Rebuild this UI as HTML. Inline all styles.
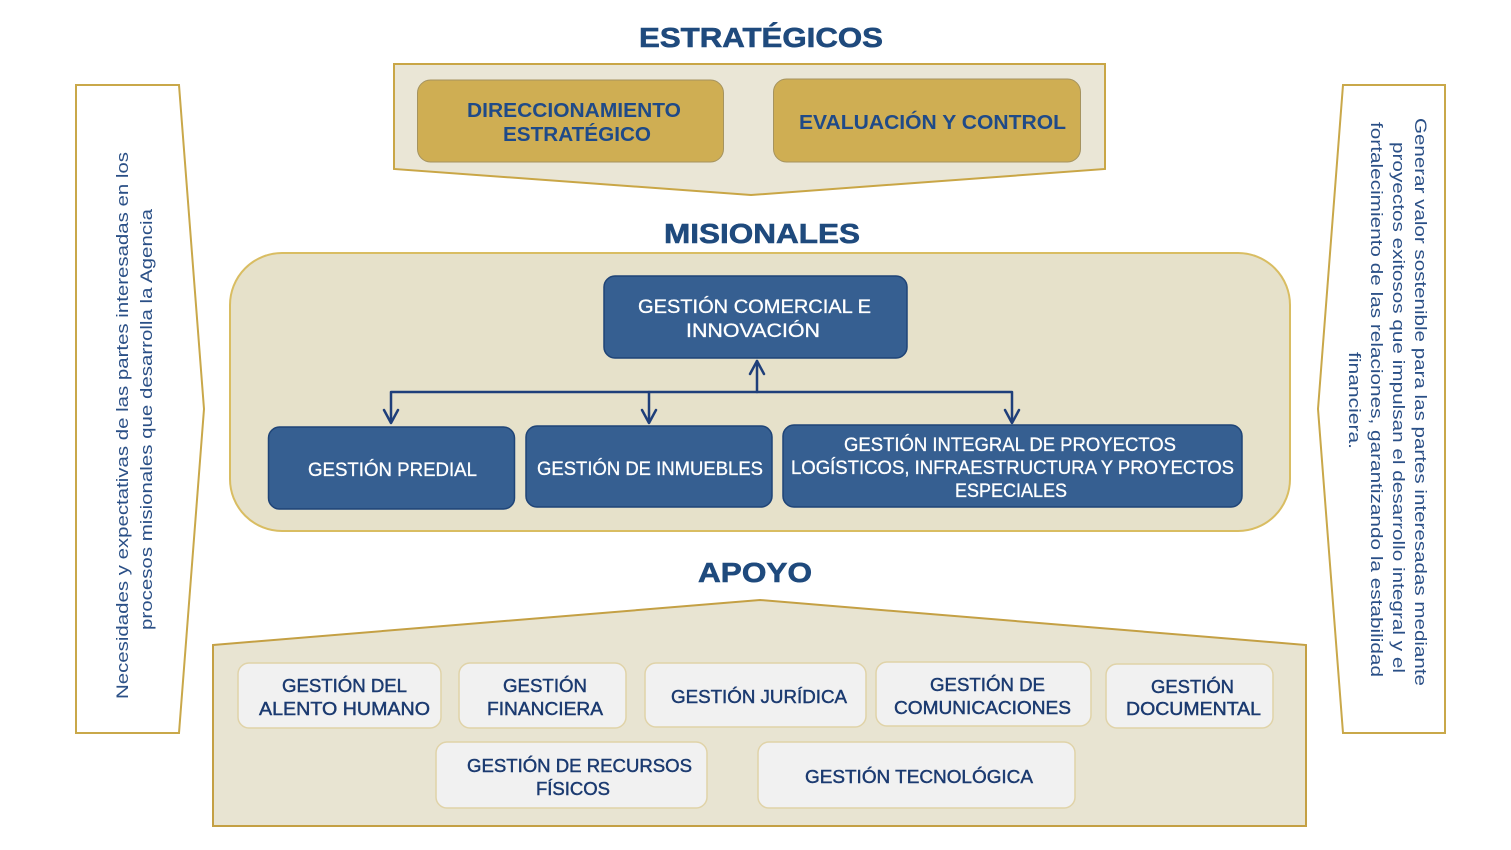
<!DOCTYPE html>
<html>
<head>
<meta charset="utf-8">
<style>
html,body{margin:0;padding:0;background:#ffffff;}
svg{display:block;}
text{font-family:"Liberation Sans", sans-serif;}
</style>
</head>
<body>
<svg width="1511" height="850" viewBox="0 0 1511 850" xmlns="http://www.w3.org/2000/svg">
  <rect x="0" y="0" width="1511" height="850" fill="#ffffff"/>

  <!-- Left pentagon arrow -->
  <polygon points="76,85 179,85 204,409 179,733 76,733" fill="#ffffff" stroke="#c9a84a" stroke-width="2"/>
  <text transform="translate(128,699) rotate(-90)" font-size="17" fill="#2a4f86" textLength="547" lengthAdjust="spacingAndGlyphs">Necesidades y expectativas de las partes interesadas en los</text>
  <text transform="translate(152,630) rotate(-90)" font-size="17" fill="#2a4f86" textLength="421" lengthAdjust="spacingAndGlyphs">procesos misionales que desarrolla la Agencia</text>

  <!-- Right pentagon -->
  <polygon points="1343,85 1445,85 1445,733 1343,733 1318,409" fill="#ffffff" stroke="#c9a84a" stroke-width="2"/>
  <text transform="translate(1415,118) rotate(90)" font-size="17" fill="#2a4f86" textLength="568" lengthAdjust="spacingAndGlyphs">Generar valor sostenible para las partes interesadas mediante</text>
  <text transform="translate(1393,142) rotate(90)" font-size="17" fill="#2a4f86" textLength="531" lengthAdjust="spacingAndGlyphs">proyectos exitosos que impulsan el desarrollo integral y el</text>
  <text transform="translate(1371,122) rotate(90)" font-size="17" fill="#2a4f86" textLength="555" lengthAdjust="spacingAndGlyphs">fortalecimiento de las relaciones, garantizando la estabilidad</text>
  <text transform="translate(1349,352) rotate(90)" font-size="17" fill="#2a4f86" textLength="97" lengthAdjust="spacingAndGlyphs">financiera.</text>

  <!-- ESTRATÉGICOS -->
  <text x="639" y="47" font-size="28" font-weight="bold" fill="#1f4a7d" stroke="#1f4a7d" stroke-width="0.6" textLength="244" lengthAdjust="spacingAndGlyphs">ESTRATÉGICOS</text>
  <polygon points="394,64 1105,64 1105,169 751,195 394,169" fill="#eae6d6" stroke="#c9a646" stroke-width="2"/>
  <rect x="417.5" y="80" width="306" height="82" rx="13" fill="#cfae53" stroke="#a5935f" stroke-width="1"/>
  <rect x="773.5" y="79" width="307" height="83" rx="13" fill="#cfae53" stroke="#a5935f" stroke-width="1"/>
  <text x="467" y="117" font-size="20" font-weight="bold" fill="#1f4a88" textLength="214" lengthAdjust="spacingAndGlyphs">DIRECCIONAMIENTO</text>
  <text x="503" y="141" font-size="20" font-weight="bold" fill="#1f4a88" textLength="148" lengthAdjust="spacingAndGlyphs">ESTRATÉGICO</text>
  <text x="799" y="129" font-size="20" font-weight="bold" fill="#1f4a88" textLength="267" lengthAdjust="spacingAndGlyphs">EVALUACIÓN Y CONTROL</text>

  <!-- MISIONALES -->
  <text x="664" y="243" font-size="28" font-weight="bold" fill="#1f4a7d" stroke="#1f4a7d" stroke-width="0.6" textLength="196" lengthAdjust="spacingAndGlyphs">MISIONALES</text>
  <rect x="230" y="253" width="1060" height="278" rx="52" fill="#e6e1ca" stroke="#d9bd62" stroke-width="2"/>

  <rect x="604" y="276" width="303" height="82" rx="11" fill="#365f91" stroke="#1f4477" stroke-width="1.5"/>
  <g fill="#ffffff" stroke="#ffffff" stroke-width="0.3" font-size="19">
    <text x="638" y="313" textLength="233" lengthAdjust="spacingAndGlyphs">GESTIÓN COMERCIAL E</text>
    <text x="686" y="337" textLength="134" lengthAdjust="spacingAndGlyphs">INNOVACIÓN</text>
  </g>

  <!-- connectors -->
  <g stroke="#1f3f7a" stroke-width="2.5" fill="none" stroke-linecap="round" stroke-linejoin="round">
    <polyline points="391,422 391,392 1012,392 1012,422"/>
    <line x1="649" y1="392" x2="649" y2="422"/>
    <line x1="757" y1="392" x2="757" y2="361"/>
    <polyline points="750,374 757,361 764,374"/>
    <polyline points="384,410 391,423 398,410"/>
    <polyline points="642,410 649,423 656,410"/>
    <polyline points="1005,410 1012,423 1019,410"/>
  </g>

  <rect x="268.5" y="427" width="246" height="82" rx="11" fill="#365f91" stroke="#1f4477" stroke-width="1.5"/>
  <rect x="526" y="426" width="246" height="81" rx="11" fill="#365f91" stroke="#1f4477" stroke-width="1.5"/>
  <rect x="783" y="425" width="459" height="82" rx="11" fill="#365f91" stroke="#1f4477" stroke-width="1.5"/>
  <g fill="#ffffff" stroke="#ffffff" stroke-width="0.3" font-size="19">
    <text x="308" y="476" textLength="169" lengthAdjust="spacingAndGlyphs">GESTIÓN PREDIAL</text>
    <text x="537" y="475" textLength="226" lengthAdjust="spacingAndGlyphs">GESTIÓN DE INMUEBLES</text>
    <text x="844" y="451" textLength="332" lengthAdjust="spacingAndGlyphs">GESTIÓN INTEGRAL DE PROYECTOS</text>
    <text x="791" y="474" textLength="443" lengthAdjust="spacingAndGlyphs">LOGÍSTICOS, INFRAESTRUCTURA Y PROYECTOS</text>
    <text x="955" y="497" textLength="112" lengthAdjust="spacingAndGlyphs">ESPECIALES</text>
  </g>

  <!-- APOYO -->
  <text x="698" y="582" font-size="28" font-weight="bold" fill="#1f4a7d" stroke="#1f4a7d" stroke-width="0.6" textLength="114" lengthAdjust="spacingAndGlyphs">APOYO</text>
  <polygon points="213,645 760,600 1306,645 1306,826 213,826" fill="#e8e4d2" stroke="#c4a044" stroke-width="2"/>

  <g fill="#f1f1f1" stroke="#e0d3a8" stroke-width="1.5">
    <rect x="238" y="663" width="203" height="65" rx="11"/>
    <rect x="459" y="663" width="167" height="65" rx="11"/>
    <rect x="645" y="663" width="221" height="64" rx="11"/>
    <rect x="876" y="662" width="215" height="64" rx="11"/>
    <rect x="1106" y="664" width="167" height="64" rx="11"/>
    <rect x="436" y="742" width="271" height="66" rx="11"/>
    <rect x="758" y="742" width="317" height="66" rx="11"/>
  </g>
  <g font-size="18.5" fill="#1b3a70" stroke="#1b3a70" stroke-width="0.45">
    <text x="282" y="692" textLength="125" lengthAdjust="spacingAndGlyphs">GESTIÓN DEL</text>
    <text x="259" y="715" textLength="171" lengthAdjust="spacingAndGlyphs">ALENTO HUMANO</text>
    <text x="503" y="692" textLength="84" lengthAdjust="spacingAndGlyphs">GESTIÓN</text>
    <text x="487" y="715" textLength="116" lengthAdjust="spacingAndGlyphs">FINANCIERA</text>
    <text x="671" y="703" textLength="176" lengthAdjust="spacingAndGlyphs">GESTIÓN JURÍDICA</text>
    <text x="930" y="691" textLength="115" lengthAdjust="spacingAndGlyphs">GESTIÓN DE</text>
    <text x="894" y="714" textLength="177" lengthAdjust="spacingAndGlyphs">COMUNICACIONES</text>
    <text x="1151" y="693" textLength="83" lengthAdjust="spacingAndGlyphs">GESTIÓN</text>
    <text x="1126" y="715" textLength="135" lengthAdjust="spacingAndGlyphs">DOCUMENTAL</text>
    <text x="467" y="772" textLength="225" lengthAdjust="spacingAndGlyphs">GESTIÓN DE RECURSOS</text>
    <text x="536" y="795" textLength="74" lengthAdjust="spacingAndGlyphs">FÍSICOS</text>
    <text x="805" y="783" textLength="228" lengthAdjust="spacingAndGlyphs">GESTIÓN TECNOLÓGICA</text>
  </g>
</svg>
</body>
</html>
